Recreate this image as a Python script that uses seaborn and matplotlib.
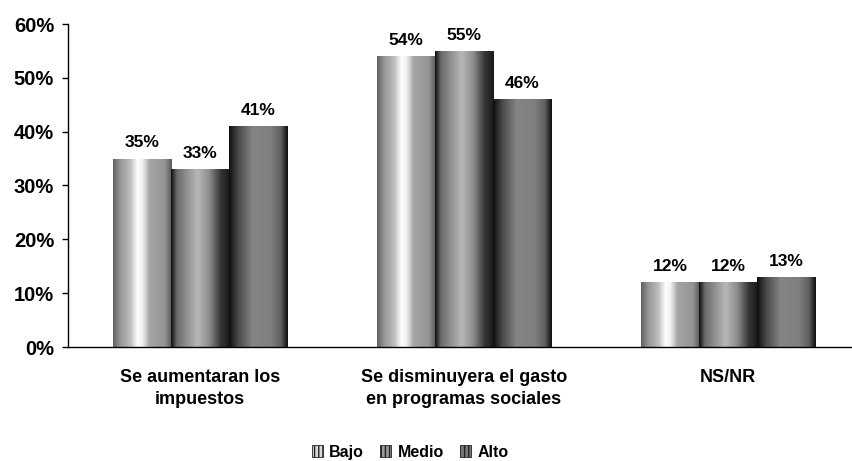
import numpy as np
import pandas as pd
import seaborn as sns
import matplotlib.pyplot as plt
from matplotlib.patches import Patch
from matplotlib.colors import LinearSegmentedColormap

categorias = ["Se aumentaran los\nimpuestos", "Se disminuyera el gasto\nen programas sociales", "NS/NR"]
niveles = ["Bajo", "Medio", "Alto"]
bajo = [35, 54, 12]
medio = [33, 55, 12]
alto = [41, 46, 13]

df = pd.DataFrame({
    "categoria": categorias * 3,
    "nivel": [n for n in niveles for _ in categorias],
    "valor": bajo + medio + alto,
})

sns.set_style("white")
plt.rcParams['font.family'] = ['Liberation Sans', 'DejaVu Sans']
plt.rcParams['font.weight'] = 'bold'
plt.rcParams['text.color'] = 'black'
plt.rcParams['xtick.color'] = 'black'
plt.rcParams['ytick.color'] = 'black'

fig = plt.figure(figsize=(8.53, 4.61), dpi=100)
ax = fig.add_axes([68 / 853, (461 - 347) / 461, (853 - 68) / 853, (347 - 24) / 461])

grises = ["#9a9a9a", "#7a7a7a", "#5a5a5a"]
sns.barplot(data=df, x="categoria", y="valor", hue="nivel", hue_order=niveles,
            order=categorias, palette=grises, width=0.66, ax=ax, legend=False,
            linewidth=0, saturation=1)

# cylinder-like shading per level (gray values across the bar width)
perfiles = {
    "Bajo": [(0, 0.38), (0.12, 0.58), (0.3, 0.75), (0.42, 1.0), (0.5, 0.95), (0.62, 0.65), (0.88, 0.58), (1, 0.35)],
    "Medio": [(0, 0.05), (0.1, 0.42), (0.45, 0.72), (0.65, 0.55), (0.85, 0.2), (1, 0.1)],
    "Alto": [(0, 0.05), (0.15, 0.28), (0.4, 0.52), (0.7, 0.5), (0.88, 0.38), (1, 0.05)],
}
for nivel, cont in zip(niveles, ax.containers):
    cmap = LinearSegmentedColormap.from_list(nivel, [(p, (g, g, g)) for p, g in perfiles[nivel]])
    grad = np.linspace(0, 1, 256).reshape(1, -1)
    for bar in cont:
        x, y = bar.get_x(), bar.get_y()
        w, h = bar.get_width(), bar.get_height()
        im = ax.imshow(grad, cmap=cmap, aspect='auto', extent=(x, x + w, y, y + h),
                       zorder=bar.get_zorder() + 0.1, interpolation='bilinear')
        im.set_clip_path(bar)

for cont in ax.containers:
    vals = [b.get_height() for b in cont]
    ax.bar_label(cont, labels=[f"{v:.0f}%" for v in vals], padding=6,
                 fontsize=12.5, fontweight='bold')

ax.set_xlim(-0.5, -0.5 + (853 - 68) / 264)
ax.set_ylim(0, 60)
ax.set_yticks(range(0, 61, 10))
ax.set_yticklabels([f"{t}%" for t in range(0, 61, 10)], fontsize=14.5, fontweight='bold')
ax.set_xticks(range(len(categorias)))
ax.set_xticklabels(categorias, fontsize=13, fontweight='bold', linespacing=1.35)
ax.set_xticks([-0.5, 0.5, 1.5], minor=True)
ax.tick_params(axis='x', which='major', length=0, pad=16)
ax.tick_params(axis='x', which='minor', length=4, width=1, color='black', direction='out')
ax.tick_params(axis='y', length=4, width=1, color='black', direction='out', left=True, pad=6)
ax.set_xlabel("")
ax.set_ylabel("")
sns.despine(ax=ax, top=True, right=True)
for s in ["left", "bottom"]:
    ax.spines[s].set_color("black")
    ax.spines[s].set_linewidth(1)

handles = [Patch(facecolor=c, edgecolor="#222222", hatch="||||", linewidth=0.6) for c in ["#d8d8d8", "#9a9a9a", "#7a7a7a"]]
fig.legend(handles, niveles, loc='center', bbox_to_anchor=(410 / 853, 1 - 452 / 461), ncol=3,
           frameon=False, handlelength=0.7, handleheight=0.7, columnspacing=1.0,
           handletextpad=0.4, prop={'weight': 'bold', 'size': 11.5})

fig.savefig("out.png", dpi=100)
